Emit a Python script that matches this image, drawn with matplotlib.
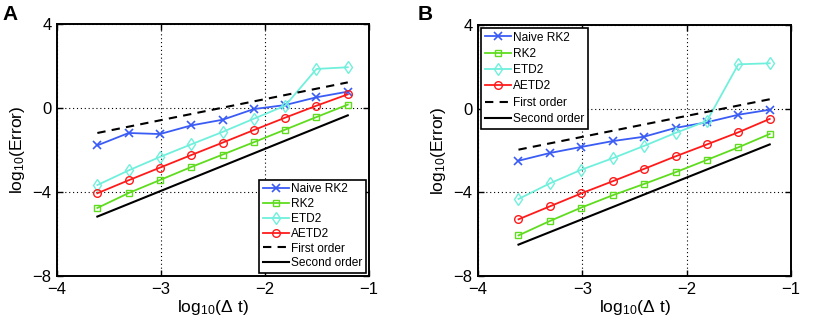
import numpy as np
import matplotlib
matplotlib.use("Agg")
import matplotlib.pyplot as plt

plt.rcParams['font.family'] = ['Liberation Sans', 'DejaVu Sans']

# x: log10(dt), dt = 2^-12 ... 2^-4
log_dt = [-3.612, -3.311, -3.010, -2.709, -2.408, -2.107, -1.806, -1.505, -1.204]

# Panel A
a_naive = [-1.78, -1.19, -1.24, -0.83, -0.56, -0.05, 0.14, 0.51, 0.78]
a_rk2   = [-4.76, -4.05, -3.43, -2.81, -2.22, -1.63, -1.03, -0.43, 0.16]
a_etd2  = [-3.67, -2.97, -2.33, -1.73, -1.14, -0.51, 0.11, 1.86, 1.94]
a_aetd2 = [-4.06, -3.44, -2.84, -2.24, -1.65, -1.05, -0.46, 0.11, 0.65]
a_first  = [-1.19, 1.22]
a_second = [-5.17, -0.35]

# Panel B
b_naive = [-2.49, -2.12, -1.83, -1.55, -1.34, -0.92, -0.65, -0.29, -0.05]
b_rk2   = [-6.06, -5.37, -4.73, -4.14, -3.60, -3.04, -2.45, -1.85, -1.21]
b_etd2  = [-4.32, -3.57, -2.92, -2.37, -1.78, -1.16, -0.59, 2.12, 2.17]
b_aetd2 = [-5.29, -4.67, -4.05, -3.47, -2.88, -2.28, -1.71, -1.13, -0.49]
b_first  = [-1.96, 0.45]
b_second = [-6.50, -1.71]

ref_x = [log_dt[0], log_dt[-1]]

labels = ['Naive RK2', 'RK2', 'ETD2', 'AETD2', 'First order', 'Second order']
colors = ['#3a5cf5', '#5fdc1e', '#70f0dc', '#ff1a1a']

fig = plt.figure(figsize=(8.3, 3.25), dpi=100)
axA = fig.add_axes([57/830, 49/325, 312/830, 252/325])
axB = fig.add_axes([478/830, 49/325, 313/830, 251/325])


def draw(ax, naive, rk2, etd2, aetd2, first, second, legloc, bbox, lspace):
    ax.plot(log_dt, naive, color=colors[0], marker='x', ms=6, mew=1.2, lw=1.3, label=labels[0])
    ax.plot(log_dt, rk2, color=colors[1], marker='s', ms=4.5, mfc='none', mew=1.0, lw=1.3, label=labels[1])
    ax.plot(log_dt, etd2, color=colors[2], marker='d', ms=6, mfc='none', mew=1.0, lw=1.3, label=labels[2])
    ax.plot(log_dt, aetd2, color=colors[3], marker='o', ms=5.5, mfc='none', mew=1.0, lw=1.3, label=labels[3])
    ax.plot(ref_x, first, color='black', ls=(0, (4, 3)), lw=1.5, label=labels[4])
    ax.plot(ref_x, second, color='black', lw=1.5, label=labels[5])
    ax.set_xlim(-4, -1)
    ax.set_ylim(-8, 4)
    ax.set_xticks([-4, -3, -2, -1])
    ax.set_yticks([-8, -4, 0, 4])
    ax.set_xticklabels(['\u22124', '\u22123', '\u22122', '\u22121'])
    ax.set_yticklabels(['\u22128', '\u22124', '0', '4'])
    ax.tick_params(direction='in', length=4, labelsize=12, width=1.0, top=True, right=True, pad=4)
    ax.grid(True, color='black', ls=(0, (1, 2.5)), lw=0.8)
    for s in ax.spines.values():
        s.set_linewidth(1.4)
    ax.set_xlabel(r'$\mathregular{log_{10}(\Delta\ t)}$', fontsize=12.5, labelpad=1)
    ax.set_ylabel(r'$\mathregular{log_{10}(Error)}$', fontsize=12.5, labelpad=4)
    leg = ax.legend(loc=legloc, bbox_to_anchor=bbox, fontsize=8.6, frameon=True, fancybox=False,
                    edgecolor='black', framealpha=1, handlelength=2.2, handletextpad=0.2,
                    labelspacing=lspace, borderpad=0.3, borderaxespad=0.25)
    leg.get_frame().set_linewidth(1.2)


draw(axA, a_naive, a_rk2, a_etd2, a_aetd2, a_first, a_second, 'lower right', (1.0, 0.0), 0.24)
draw(axB, b_naive, b_rk2, b_etd2, b_aetd2, b_first, b_second, 'upper left', (0.0, 1.0), 0.36)

fig.text(2/830, 1 - 20/325, 'A', fontsize=15, fontweight='bold', va='baseline')
fig.text(418/830, 1 - 20/325, 'B', fontsize=15, fontweight='bold', va='baseline')

fig.savefig('out.png', dpi=100)
